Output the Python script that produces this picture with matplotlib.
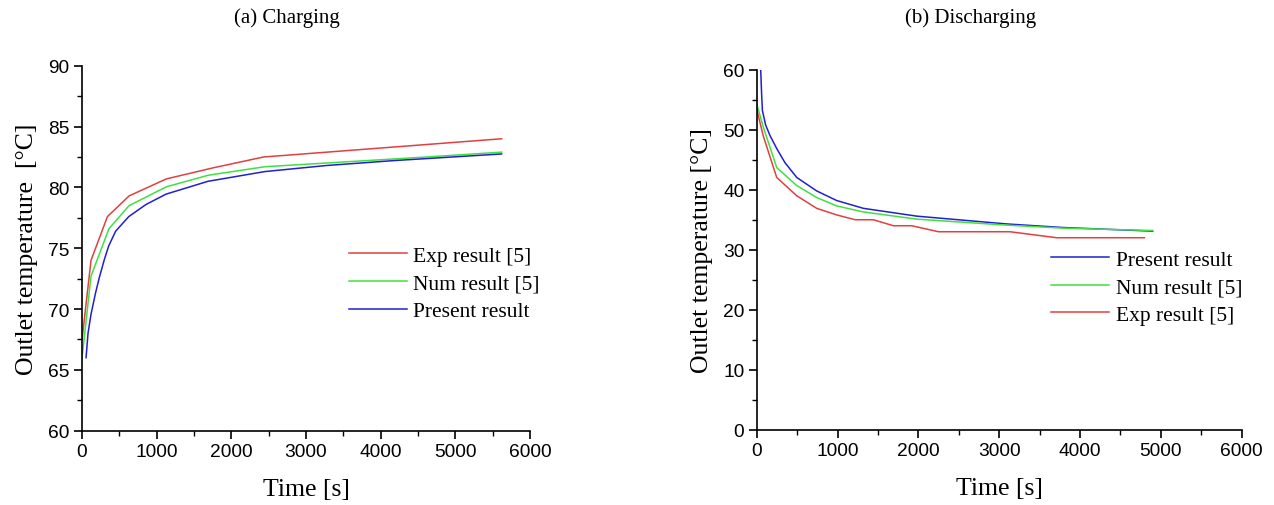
import matplotlib
matplotlib.use('Agg')
import matplotlib.pyplot as plt
from matplotlib.ticker import MultipleLocator

# (a) charging
chgExpTime = [0, 120, 340, 630, 1130, 1750, 2430, 5620]
chgExpTemp = [67.5, 74.0, 77.6, 79.3, 80.7, 81.6, 82.5, 84.0]
chgNumTime = [0, 120, 360, 630, 1130, 1690, 2450, 4610, 5620]
chgNumTemp = [66.0, 72.7, 76.6, 78.5, 80.05, 81.0, 81.7, 82.5, 82.9]
chgPreTime = [54, 80, 121, 180, 232, 300, 358, 450, 626, 858, 1127, 1686, 2446, 3273, 4167, 5620]
chgPreTemp = [66.0, 68.0, 69.6, 71.3, 72.6, 74.1, 75.2, 76.4, 77.6, 78.6, 79.45, 80.5, 81.3, 81.8, 82.2, 82.75]

# (b) discharging
disPreTime = [49, 60, 70, 110, 165, 250, 350, 495, 742, 990, 1320, 1980, 3093, 3794, 4899]
disPreTemp = [60.0, 56.0, 53.2, 50.8, 49.0, 46.8, 44.5, 42.05, 39.8, 38.2, 36.9, 35.6, 34.3, 33.7, 33.1]
disNumTime = [0, 80, 247, 495, 742, 990, 1320, 1980, 3093, 3794, 4899]
disNumTemp = [54.3, 50.5, 43.7, 40.7, 38.7, 37.3, 36.3, 35.1, 34.1, 33.6, 33.2]
disExpTime = [0, 80, 247, 495, 742, 990, 1217, 1443, 1691, 1918, 2248, 3134, 3711, 4796]
disExpTemp = [53.4, 49.0, 42.05, 39.0, 36.9, 35.8, 35.0, 35.0, 34.0, 34.0, 33.0, 33.0, 32.0, 32.0]

RED = '#e04040'
GREEN = '#40e040'
BLUE = '#2020d0'
SERIF = 'Liberation Serif'
SANS = 'Liberation Sans'


def styleAxis(ax, ylo, yhi, ymaj, ylabel):
    ax.set_xlim(0, 6000)
    ax.set_ylim(ylo, yhi)
    ax.xaxis.set_major_locator(MultipleLocator(1000))
    ax.xaxis.set_minor_locator(MultipleLocator(500))
    ax.yaxis.set_major_locator(MultipleLocator(ymaj))
    ax.yaxis.set_minor_locator(MultipleLocator(ymaj / 2))
    ax.spines['top'].set_visible(False)
    ax.spines['right'].set_visible(False)
    ax.tick_params(which='major', direction='out', length=6, width=1.2, labelsize=13.8, pad=3)
    ax.tick_params(which='minor', direction='out', length=3.5, width=1.0)
    for lab in ax.get_xticklabels() + ax.get_yticklabels():
        lab.set_fontfamily(SANS)
    for s in ax.spines.values():
        s.set_linewidth(1.2)
    ax.set_xlabel('Time [s]', fontfamily=SERIF, fontsize=18.5, labelpad=13)
    ax.set_ylabel(ylabel, fontfamily=SERIF, fontsize=18.5, labelpad=7)


fig = plt.figure(figsize=(12.74, 5.06), dpi=100)
axA = fig.add_axes([0.0644, 0.147, 0.3516, 0.721])
axB = fig.add_axes([0.594, 0.149, 0.3806, 0.711])

axA.plot(chgExpTime, chgExpTemp, color=RED, lw=1.1, label='Exp result [5]')
axA.plot(chgNumTime, chgNumTemp, color=GREEN, lw=1.1, label='Num result [5]')
axA.plot(chgPreTime, chgPreTemp, color=BLUE, lw=1.1, label='Present result')
styleAxis(axA, 60, 90, 5, 'Outlet temperature  [°C]')
axA.legend(loc='upper left', bbox_to_anchor=(0.576, 0.53), frameon=False,
           prop={'family': SERIF, 'size': 15.5}, handlelength=2.7,
           handletextpad=0.3, labelspacing=0.35, borderaxespad=0)

axB.plot(disPreTime, disPreTemp, color=BLUE, lw=1.1, label='Present result')
axB.plot(disNumTime, disNumTemp, color=GREEN, lw=1.1, label='Num result [5]')
axB.plot(disExpTime, disExpTemp, color=RED, lw=1.1, label='Exp result [5]')
styleAxis(axB, 0, 60, 10, 'Outlet temperature [°C]')
axB.legend(loc='upper left', bbox_to_anchor=(0.589, 0.524), frameon=False,
           prop={'family': SERIF, 'size': 15.5}, handlelength=2.7,
           handletextpad=0.3, labelspacing=0.35, borderaxespad=0)

fig.text(287 / 1274, 1 - 18 / 506, '(a) Charging', ha='center', va='center',
         fontfamily=SERIF, fontsize=15)
fig.text(971 / 1274, 1 - 18 / 506, '(b) Discharging', ha='center', va='center',
         fontfamily=SERIF, fontsize=15)

fig.savefig('out.png', dpi=100)
